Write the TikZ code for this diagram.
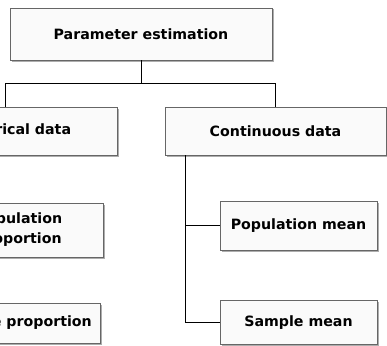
\documentclass[tikz,border=0pt]{standalone}
\usepackage{fontspec}
\setmainfont{DejaVu Sans}
\usepackage{tikz}
\usetikzlibrary{positioning, shadows}

\begin{document}
\begin{tikzpicture}[x=1pt,y=-1pt]
	\tikzstyle{box}=[draw=black!60, fill=black!2, line width=0.8pt, align=center, inner sep=2pt,
		font=\bfseries\fontsize{14.2}{20}\selectfont,
		drop shadow={shadow xshift=1.5pt, shadow yshift=-1.5pt, fill=black!40, opacity=0.8}]
	\tikzstyle{wire}=[draw=black, line width=0.6pt]
	\useasboundingbox (0,0) rectangle (387,345);
	\clip (0,0) rectangle (387,345);
	% top level
	\node[box, minimum width=262pt, minimum height=52pt](est) at (141,34){Parameter estimation};
	% kinds of data
	\node[box, minimum width=224pt, minimum height=48pt](cat) at (5,131){Categorical data};
	\node[box, minimum width=221pt, minimum height=48pt](cont) at (275.5,131){Continuous data};
	% categorical side
	\node[box, minimum width=168pt, minimum height=54pt](popprop) at (19,230){Population\\proportion};
	\node[box, minimum width=166pt, minimum height=40pt](sampprop) at (17,323){Sample proportion};
	% continuous side
	\node[box, minimum width=157pt, minimum height=49pt](popmean) at (298.5,225.5){Population mean};
	\node[box, minimum width=157pt, minimum height=44pt](sampmean) at (298.5,322.5){Sample mean};
	\coordinate (rail) at ([xshift=21pt]cont.south west);
	\coordinate (split) at ([yshift=-23pt]est.south);
	\path[wire]
		(est.south) -- (split)
		(split) -| (cat.north)
		(split) -| (cont.north)
		(rail) |- (popmean.west)
		(rail) |- (sampmean.west);
\end{tikzpicture}
\end{document}
